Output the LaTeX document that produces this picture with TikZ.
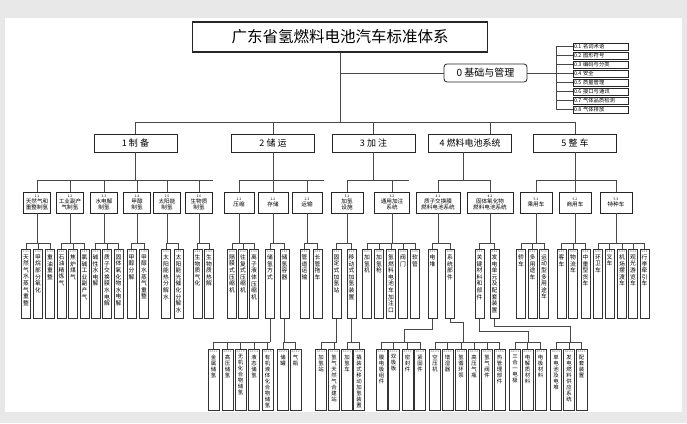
\documentclass[tikz,border=0pt]{standalone}
\usepackage{fontspec}
\setmainfont{Noto Sans CJK SC}
\def\vtxEnd{}
\newcommand\vtx[1]{\vtxA#1\vtxEnd}
\def\vtxA#1{\ifx#1\vtxEnd\else#1\par\expandafter\vtxA\fi}
\begin{document}
\begin{tikzpicture}[x=1pt,y=-1pt,
 ln/.style={draw=black!72, line width=0.5pt},
 ttl/.style={draw=black!85, line width=1.1pt, minimum width=295pt, minimum height=30pt, inner sep=0pt, font=\fontsize{15.5}{15.5}\selectfont},
 zbox/.style={draw=black!85, line width=0.8pt, rounded corners=3pt, minimum width=83pt, minimum height=18pt, inner sep=0pt, font=\fontsize{10}{10}\selectfont},
 sbox/.style={draw=black!85, line width=0.5pt, minimum height=7pt, inner xsep=1pt, inner ysep=0pt, text width=53pt, align=left, font=\fontsize{5.3}{5.3}\selectfont},
 onebox/.style={draw=black!85, line width=0.7pt, minimum width=83pt, minimum height=18pt, inner sep=0pt, font=\fontsize{9}{9}\selectfont},
 twobox/.style={draw=black!85, line width=0.9pt, minimum height=21pt, inner sep=0.3pt, align=center, font=\fontsize{5.6}{6.2}\selectfont},
 cthr/.style={draw=black!80, line width=0.5pt, minimum width=9pt, minimum height=69pt, inner sep=0pt, anchor=north},
 cfr/.style={draw=black!80, line width=0.5pt, minimum width=11pt, minimum height=61pt, inner sep=0pt, anchor=north},
 labs/.style={anchor=north, inner sep=0pt, text=black!70, font=\fontsize{2.6}{2.6}\selectfont},
 vthr/.style={anchor=north, inner sep=0pt, text width=7pt, align=center, font=\fontsize{5.8}{6.6}\selectfont},
 vfr/.style={anchor=north, inner sep=0pt, text width=7pt, align=center, font=\fontsize{5.4}{6.0}\selectfont}
]
\newcommand\cthree[4]{\node[cthr] (#1) at (#2,249) {};\node[labs] at ([yshift=-1pt]#1.north) {#3};\node[vthr] at ([yshift=-5.5pt]#1.north) {\vtx{#4}};}
\newcommand\cfour[4]{\node[cfr] (#1) at (#2,349) {};\node[labs] at ([yshift=-1pt]#1.north) {#3};\node[vfr] at ([yshift=-5.5pt]#1.north) {\vtx{#4}};}
\newcommand\fan[5]{\draw[ln] (#1.south) -- (#1.south |- #2);
 \draw[ln] (#3.north |- #2) -- (#4.north |- #2);
 \foreach \k in {#5} {\draw[ln] (\k.north) -- (\k.north |- #2);}}
% page
\fill[black!9] (0,0) rectangle (687,423);
\fill[white] (5,18) rectangle (682,412);
\useasboundingbox (0,0) rectangle (687,423);
\coordinate (Y1) at (0,122);
\coordinate (Y2) at (0,180);
\coordinate (Y3) at (0,243);
\coordinate (Y4) at (0,342);
\coordinate (SB) at (556,0);
% title and 0
\node[ttl] (T) at (340,37) {广东省氢燃料电池汽车标准体系};
\node[zbox] (Z) at (485.5,73) {0 基础与管理};
\node[sbox] (S1) at (600.5,46.5) {0.1 名词术语};
\node[sbox] (S2) at (600.5,55.5) {0.2 图形符号};
\node[sbox] (S3) at (600.5,64.5) {0.3 编码与分类};
\node[sbox] (S4) at (600.5,73.5) {0.4 安全};
\node[sbox] (S5) at (600.5,82.5) {0.5 质量管理};
\node[sbox] (S6) at (600.5,91.5) {0.6 接口与通讯};
\node[sbox] (S7) at (600.5,100.5) {0.7 气体品质检测};
\node[sbox] (S8) at (600.5,109.5) {0.8 气体排放};
\draw[ln] (T.south) -- (T.south |- Y1);
\draw[ln] (T.south |- Z.west) -- (Z.west);
\draw[ln] (Z.east) -- (Z.east -| SB);
\draw[ln] (S1.west -| SB) -- (S8.west -| SB);
\foreach \i in {1,...,8} {\draw[ln] (S\i.west) -- (S\i.west -| SB);}
% level 1
\node[onebox] (B1) at (135.5,143) {1 制 备};
\node[onebox] (B2) at (273,143) {2 储 运};
\node[onebox] (B3) at (373.5,143) {3 加 注};
\node[onebox] (B4) at (470,143) {4 燃料电池系统};
\node[onebox] (B5) at (575,143) {5 整 车};
\coordinate (B4t) at (490,134);
\coordinate (B4b) at (463,152);
\draw[ln] (B1.north |- Y1) -- (B5.north |- Y1);
\foreach \n in {B1,B2,B3,B5} {\draw[ln] (\n.north) -- (\n.north |- Y1);}
\draw[ln] (B4t) -- (B4t |- Y1);
% level 2
\node[twobox, minimum width=27pt] (b11) at (37,202.5) {{\fontsize{3.4}{3.4}\selectfont 1.1}\\天然气和\\重整制氢};
\node[twobox, minimum width=27pt] (b12) at (70,202.5) {{\fontsize{3.4}{3.4}\selectfont 1.2}\\工业副产\\气制氢};
\node[twobox, minimum width=27pt] (b13) at (104,202.5) {{\fontsize{3.4}{3.4}\selectfont 1.3}\\水电解\\制氢};
\node[twobox, minimum width=27pt] (b14) at (137,202.5) {{\fontsize{3.4}{3.4}\selectfont 1.4}\\甲醇\\制氢};
\node[twobox, minimum width=27pt] (b15) at (167,202.5) {{\fontsize{3.4}{3.4}\selectfont 1.5}\\太阳能\\制氢};
\node[twobox, minimum width=27pt] (b16) at (199,202.5) {{\fontsize{3.4}{3.4}\selectfont 1.6}\\生物质\\制氢};
\node[twobox, minimum width=30pt] (b21) at (239,202.5) {{\fontsize{3.4}{3.4}\selectfont 2.1}\\压缩};
\node[twobox, minimum width=30pt] (b22) at (273,202.5) {{\fontsize{3.4}{3.4}\selectfont 2.2}\\存储};
\node[twobox, minimum width=30pt] (b23) at (307,202.5) {{\fontsize{3.4}{3.4}\selectfont 2.3}\\运输};
\node[twobox, minimum width=32pt] (b31) at (347,202.5) {{\fontsize{3.4}{3.4}\selectfont 3.1}\\加氢\\设施};
\node[twobox, minimum width=35pt] (b32) at (392,202.5) {{\fontsize{3.4}{3.4}\selectfont 3.2}\\通用加注\\系统};
\node[twobox, minimum width=44pt] (b41) at (438,202.5) {{\fontsize{3.4}{3.4}\selectfont 4.1}\\质子交换膜\\燃料电池系统};
\node[twobox, minimum width=46pt] (b42) at (490,202.5) {{\fontsize{3.4}{3.4}\selectfont 4.2}\\固体氧化物\\燃料电池系统};
\node[twobox, minimum width=32pt] (b51) at (536,202.5) {{\fontsize{3.4}{3.4}\selectfont 5.1}\\乘用车};
\node[twobox, minimum width=32pt] (b52) at (575,202.5) {{\fontsize{3.4}{3.4}\selectfont 5.2}\\商用车};
\node[twobox, minimum width=32pt] (b53) at (616,202.5) {{\fontsize{3.4}{3.4}\selectfont 5.3}\\特种车};
\coordinate (E2a) at (213,180);
\coordinate (E2b) at (324,180);
\coordinate (E2c) at (409,180);
\draw[ln] (B1.south) -- (B1.south |- Y2);
\draw[ln] (b11.north |- Y2) -- (E2a);
\foreach \n in {b11,b12,b13,b14,b15,b16} {\draw[ln] (\n.north) -- (\n.north |- Y2);}
\draw[ln] (B2.south) -- (B2.south |- Y2);
\draw[ln] (b21.north |- Y2) -- (E2b);
\foreach \n in {b21,b22,b23} {\draw[ln] (\n.north) -- (\n.north |- Y2);}
\draw[ln] (B3.south) -- (B3.south |- Y2);
\draw[ln] (b31.north |- Y2) -- (E2c);
\foreach \n in {b31,b32} {\draw[ln] (\n.north) -- (\n.north |- Y2);}
\draw[ln] (B4b) -- (B4b |- Y2);
\draw[ln] (b41.north |- Y2) -- (b42.north |- Y2);
\foreach \n in {b41,b42} {\draw[ln] (\n.north) -- (\n.north |- Y2);}
\draw[ln] (B5.south) -- (B5.south |- Y2);
\draw[ln] (b51.north |- Y2) -- (b53.north |- Y2);
\foreach \n in {b51,b52,b53} {\draw[ln] (\n.north) -- (\n.north |- Y2);}
% level 3
\cthree{c111}{26}{1.1.1}{天然气水蒸气重整}
\cthree{c112}{38}{1.1.2}{甲烷部分氧化}
\cthree{c113}{50}{1.1.3}{重油重整}
\cthree{c121}{61.5}{1.2.1}{石油精炼气}
\cthree{c122}{73}{1.2.2}{焦炉煤气}
\cthree{c123}{84.5}{1.2.3}{氯碱工业副产气}
\cthree{c131}{95.5}{1.3.1}{碱性水电解}
\cthree{c132}{107}{1.3.2}{质子交换膜水电解}
\cthree{c133}{118.5}{1.3.3}{固体氧化物水电解}
\cthree{c141}{131.5}{1.4.1}{甲醇分解}
\cthree{c142}{144}{1.4.2}{甲醇水蒸气重整}
\cthree{c151}{166}{1.5.1}{太阳能热分解水}
\cthree{c152}{178.5}{1.5.2}{太阳能光催化分解水}
\cthree{c161}{197.5}{1.6.1}{生物质气化}
\cthree{c162}{209}{1.6.2}{生物质热解}
\cthree{c211}{232}{2.1.1}{隔膜式压缩机}
\cthree{c212}{243}{2.1.2}{往复式压缩机}
\cthree{c213}{254}{2.1.3}{离子液体压缩机}
\cthree{c221}{270}{2.2.1}{储氢方式}
\cthree{c222}{284.5}{2.2.2}{储氢容器}
\cthree{c231}{304.5}{2.3.1}{管道运输}
\cthree{c232}{317.5}{2.3.2}{长管拖车}
\cthree{c311}{336.5}{3.1.1}{固定式加氢站}
\cthree{c312}{351.5}{3.1.2}{移动式加氢装置}
\cthree{c321}{367}{3.2.1}{加氢机}
\cthree{c322}{379}{3.2.2}{加氢枪}
\cthree{c323}{391}{3.2.3}{氢燃料电池车加注口}
\cthree{c324}{403}{3.2.4}{阀门}
\cthree{c325}{415}{3.2.5}{软管}
\cthree{c411}{432.5}{4.1.1}{电堆}
\cthree{c412}{450}{4.1.2}{系统部件}
\cthree{c421}{479.5}{4.2.1}{关键材料和部件}
\cthree{c422}{494.5}{4.2.2}{发电单元及配套装置}
\cthree{c511}{521}{5.1.1}{轿车}
\cthree{c512}{532.5}{5.1.2}{多用途车}
\cthree{c513}{544}{5.1.3}{运动型多用途车}
\cthree{c521}{561.5}{5.2.1}{客车}
\cthree{c522}{573}{5.2.2}{物流车}
\cthree{c523}{585.5}{5.2.3}{中重型货车}
\cthree{c531}{598}{5.3.1}{环卫车}
\cthree{c532}{609.5}{5.3.2}{叉车}
\cthree{c533}{622}{5.3.3}{机场摆渡车}
\cthree{c534}{633}{5.3.4}{观光游览车}
\cthree{c535}{644.5}{5.3.5}{行李牵引车}
\fan{b11}{Y3}{c111}{c113}{c111,c112,c113}
\fan{b12}{Y3}{c121}{c123}{c121,c122,c123}
\fan{b13}{Y3}{c131}{c133}{c131,c132,c133}
\fan{b14}{Y3}{c141}{c142}{c141,c142}
\fan{b15}{Y3}{c151}{c152}{c151,c152}
\fan{b16}{Y3}{c161}{c162}{c161,c162}
\fan{b21}{Y3}{c211}{c213}{c211,c212,c213}
\fan{b22}{Y3}{c221}{c222}{c221,c222}
\fan{b23}{Y3}{c231}{c232}{c231,c232}
\fan{b31}{Y3}{c311}{c312}{c311,c312}
\fan{b32}{Y3}{c321}{c325}{c321,c322,c323,c324,c325}
\fan{b41}{Y3}{c411}{c412}{c411,c412}
\fan{b42}{Y3}{c421}{c422}{c421,c422}
\fan{b51}{Y3}{c511}{c513}{c511,c512,c513}
\fan{b52}{Y3}{c521}{c523}{c521,c522,c523}
\fan{b53}{Y3}{c531}{c535}{c531,c532,c533,c534,c535}
% level 4
\cfour{d2211}{213.5}{2.2.1.1}{金属储氢}
\cfour{d2212}{227.5}{2.2.1.2}{高压储氢}
\cfour{d2213}{240.5}{2.2.1.3}{无机化合物储氢}
\cfour{d2214}{254}{2.2.1.4}{液态储氢}
\cfour{d2215}{267.5}{2.2.1.5}{有机液体化合物储氢}
\cfour{d2221}{283}{2.2.2.1}{储罐}
\cfour{d2222}{295.5}{2.2.2.2}{气瓶}
\cfour{d3111}{321}{3.1.1.1}{加氢站}
\cfour{d3112}{334}{3.1.1.2}{氢气天然气合建站}
\cfour{d3121}{347}{3.1.2.1}{加氢车}
\cfour{d3122}{359}{3.1.2.2}{撬装式移动加氢装置}
\cfour{d4111}{381.5}{4.1.1.1}{膜电极组件}
\cfour{d4112}{393.5}{4.1.1.2}{双极板}
\cfour{d4113}{407.5}{4.1.1.3}{密封件}
\cfour{d4114}{420}{4.1.1.4}{紧固件}
\cfour{d4121}{435}{4.1.2.1}{空压机}
\cfour{d4122}{447.5}{4.1.2.2}{增湿器}
\cfour{d4123}{461}{4.1.2.3}{氢循环泵}
\cfour{d4124}{474}{4.1.2.4}{高压气瓶}
\cfour{d4125}{487}{4.1.2.5}{氢气阀件}
\cfour{d4126}{499.5}{4.1.2.6}{热管理部件}
\cfour{d4211}{515}{4.2.1.1}{三合一电极}
\cfour{d4212}{527.5}{4.2.1.2}{电解质材料}
\cfour{d4213}{540.5}{4.2.1.3}{电极材料}
\cfour{d4221}{556}{4.2.2.1}{单电池及电堆}
\cfour{d4222}{569}{4.2.2.2}{发电燃料供应系统}
\cfour{d4223}{581.5}{4.2.2.3}{配套装置}
\fan{c221}{Y4}{d2211}{c221}{d2211,d2212,d2213,d2214,d2215}
\fan{c222}{Y4}{d2221}{d2222}{d2221,d2222}
\fan{c311}{Y4}{d3111}{c311}{d3111,d3112}
\fan{c312}{Y4}{d3121}{d3122}{d3121,d3122}
\coordinate (J1) at (404,329);
\coordinate (J2) at (463,322);
\coordinate (J3) at (528,331);
\coordinate (J4) at (570,326);
\draw[ln] (c411.south) |- (J1) -- (J1 |- Y4);
\draw[ln] (d4111.north |- Y4) -- (d4114.north |- Y4);
\foreach \n in {d4111,d4112,d4113,d4114} {\draw[ln] (\n.north) -- (\n.north |- Y4);}
\draw[ln] (c412.south) |- (J2) -- (J2 |- Y4);
\draw[ln] (d4121.north |- Y4) -- (d4126.north |- Y4);
\foreach \n in {d4121,d4122,d4123,d4124,d4125,d4126} {\draw[ln] (\n.north) -- (\n.north |- Y4);}
\draw[ln] (c421.south) |- (J3) -- (J3 |- Y4);
\draw[ln] (d4211.north |- Y4) -- (d4213.north |- Y4);
\foreach \n in {d4211,d4212,d4213} {\draw[ln] (\n.north) -- (\n.north |- Y4);}
\draw[ln] (c422.south) |- (J4) -- (J4 |- Y4);
\draw[ln] (d4221.north |- Y4) -- (d4223.north |- Y4);
\foreach \n in {d4221,d4222,d4223} {\draw[ln] (\n.north) -- (\n.north |- Y4);}
\end{tikzpicture}
\end{document}
